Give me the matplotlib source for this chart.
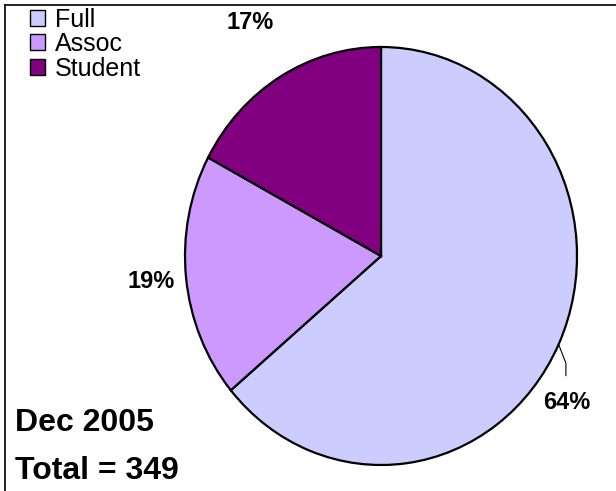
import numpy as np
import matplotlib
matplotlib.use("Agg")
import matplotlib.pyplot as plt
from matplotlib.lines import Line2D

# membership counts, Dec 2005
categories = ["Full", "Assoc", "Student"]
counts = [223, 66, 60]
colors = ["#CCCCFF", "#CC99FF", "#800080"]
title_lines = ["Dec 2005", "Total = 349"]

plt.rcParams["font.family"] = ["Liberation Sans", "DejaVu Sans"]

W, H = 616, 491
fig = plt.figure(figsize=(W / 100, H / 100), dpi=100)

# pie axes (slightly taller than wide, as in the original)
cx, cy, rx, ry = 381, 256, 196, 209
ax = fig.add_axes([(cx - rx) / W, (H - cy - ry) / H, 2 * rx / W, 2 * ry / H])
wedges, _ = ax.pie(counts, colors=colors, startangle=90, counterclock=False,
                   radius=1.0, wedgeprops=dict(edgecolor="black", linewidth=1.6))
ax.set_xlim(-1, 1)
ax.set_ylim(-1, 1)
ax.set_aspect("auto")
ax.axis("off")

# percent labels: (angle offset, radius) per wedge
total = sum(counts)
label_pos = [(-11.5, 1.18), (0, 1.18), (0, 1.30)]
for w, n, (dang, r) in zip(wedges, counts, label_pos):
    mid = (w.theta1 + w.theta2) / 2
    a = np.deg2rad(mid + dang)
    tx, ty = r * np.cos(a), r * np.sin(a)
    ax.text(tx, ty, f"{round(100 * n / total)}%", ha="center", va="center",
            fontsize=17, fontweight="bold", clip_on=False)
    if dang != 0:
        m = np.deg2rad(mid)
        ex, ey = np.cos(m), np.sin(m)
        ax.plot([ex, tx - 0.005, tx - 0.005], [ey, ey - 0.09, ty + 0.13],
                color="black", lw=0.8, clip_on=False)

# legend
leg = fig.legend(wedges, categories, loc="upper left", bbox_to_anchor=(0.02, 1.02),
                 frameon=False, fontsize=18, handlelength=0.6, handleheight=0.6,
                 handletextpad=0.4, labelspacing=0.02, borderpad=0.2)
for h in leg.legend_handles:
    h.set_edgecolor("black")
    h.set_linewidth(1.0)

fig.text(15 / W, 1 - 423 / H, title_lines[0], ha="left", va="center",
         fontsize=23, fontweight="bold")
fig.text(15 / W, 1 - 471 / H, title_lines[1], ha="left", va="center",
         fontsize=23, fontweight="bold")

# chart border (only top and left visible)
fig.add_artist(Line2D([5 / W, 1], [1 - 5 / H, 1 - 5 / H], color="black", lw=1.2))
fig.add_artist(Line2D([5 / W, 5 / W], [0, 1 - 5 / H], color="black", lw=1.2))

fig.savefig("out.png", dpi=100)
